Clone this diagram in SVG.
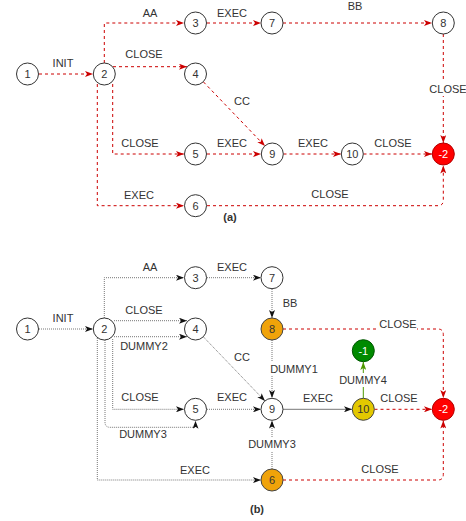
<svg xmlns="http://www.w3.org/2000/svg" width="466" height="521" viewBox="0 0 466 521">
<style>
text{font-family:"Liberation Sans",Arial,sans-serif;font-size:11px;fill:#333;text-anchor:middle;dominant-baseline:central}
.n circle{stroke:#333;stroke-width:1;fill:#fff}
.red{stroke:#cc0000;stroke-width:1;stroke-dasharray:3 3;fill:none;marker-end:url(#ar)}
.dot{stroke:#777;stroke-width:1;stroke-dasharray:1 1;fill:none;marker-end:url(#ab)}
.sol{stroke:#777;stroke-width:1;fill:none;marker-end:url(#ab)}
.grn{stroke:#4d9900;stroke-width:1;fill:none;marker-end:url(#ag)}
.bg{fill:#fff}
.b{font-weight:bold;font-size:11px}
.w{fill:#fff}
</style>
<defs>
<marker id="ar" viewBox="0 0 8 6" refX="8" refY="3" markerWidth="8" markerHeight="6" markerUnits="userSpaceOnUse" orient="auto"><path d="M0,0 L8,3 L0,6 L2,3 z" fill="#cc0000"/></marker>
<marker id="ab" viewBox="0 0 8 6" refX="8" refY="3" markerWidth="8" markerHeight="6" markerUnits="userSpaceOnUse" orient="auto"><path d="M0,0 L8,3 L0,6 L2,3 z" fill="#111"/></marker>
<marker id="ag" viewBox="0 0 8 6" refX="8" refY="3" markerWidth="8" markerHeight="6" markerUnits="userSpaceOnUse" orient="auto"><path d="M0,0 L8,3 L0,6 L2,3 z" fill="#4d9900"/></marker>
</defs>

<g id="connectors">
<!-- (a) -->
<path class="red" d="M39,74 H93"/>
<path class="red" d="M104.3,63 V23 H184"/>
<path class="red" d="M113,66.7 H187"/>
<path class="red" d="M112.7,84 V154 H184"/>
<path class="red" d="M97.3,84 V205.7 H184"/>
<path class="red" d="M207,23 H261"/>
<path class="red" d="M283,23 H432"/>
<path class="red" d="M443.3,34 V143"/>
<path class="red" d="M203.5,82 L265,146"/>
<path class="red" d="M207,154 H261"/>
<path class="red" d="M283.5,154 H341"/>
<path class="red" d="M363.5,154 H432"/>
<path class="red" d="M207,205.7 H438 Q443.3,205.7 443.3,200 V165.5"/>
<!-- (b) -->
<path class="dot" d="M39,329 H93"/>
<path class="dot" d="M104.3,318 V277.7 H184"/>
<path class="dot" d="M114,320.7 H187"/>
<path class="dot" d="M114,336.7 H187"/>
<path class="dot" d="M112.7,339 V409.3 H184"/>
<path class="dot" d="M105,340 V422 Q105,427.3 110,427.3 H195.5 V420.8"/>
<path class="dot" d="M97.3,338 V480 H261"/>
<path class="dot" d="M207,277.7 H261"/>
<path class="dot" d="M272,289 V318"/>
<path class="dot" d="M272,340 V398"/>
<path class="dot" d="M203.5,337 L265,401"/>
<path class="dot" d="M207,409.3 H261"/>
<path class="sol" d="M283,409.3 H352"/>
<path class="grn" d="M363.3,398 V362"/>
<path class="red" d="M374.5,409.3 H432"/>
<path class="red" d="M283,329 H438 Q443.3,329 443.3,334.5 V398"/>
<path class="dot" d="M272,469 V420.5"/>
<path class="red" d="M283,480 H438 Q443.3,480 443.3,474.5 V420.5"/>
</g>

<g id="labels">
<text x="150" y="13">AA</text>
<text x="232" y="13">EXEC</text>
<text x="355" y="6">BB</text>
<text x="63" y="63">INIT</text>
<text x="144" y="54">CLOSE</text>
<text x="242" y="101">CC</text>
<rect class="bg" x="430" y="82" width="36" height="14"/>
<text x="448" y="89">CLOSE</text>
<text x="140" y="143">CLOSE</text>
<text x="232" y="143">EXEC</text>
<text x="313" y="143">EXEC</text>
<text x="393" y="143">CLOSE</text>
<text x="139" y="195">EXEC</text>
<text x="330" y="194">CLOSE</text>
<text class="b" x="230" y="217">(a)</text>

<text x="150" y="266.7">AA</text>
<text x="232" y="267">EXEC</text>
<text x="63" y="318">INIT</text>
<text x="144" y="310">CLOSE</text>
<text x="144" y="346">DUMMY2</text>
<text x="290" y="303">BB</text>
<rect class="bg" x="379" y="317" width="38" height="14"/>
<text x="398" y="324">CLOSE</text>
<rect class="bg" x="270" y="362" width="48" height="14"/>
<text x="294" y="369">DUMMY1</text>
<text x="242" y="357">CC</text>
<rect class="bg" x="339" y="373" width="48" height="14"/>
<text x="363" y="380">DUMMY4</text>
<text x="140" y="397">CLOSE</text>
<text x="232" y="397">EXEC</text>
<text x="318" y="398">EXEC</text>
<text x="399" y="398">CLOSE</text>
<text x="143" y="434">DUMMY3</text>
<rect class="bg" x="248" y="437" width="48" height="14"/>
<text x="272" y="444">DUMMY3</text>
<text x="195" y="470">EXEC</text>
<text x="380" y="469">CLOSE</text>
<text class="b" x="257" y="509">(b)</text>
</g>

<!-- (a) nodes -->
<g id="a1" class="n"><circle cx="27.5" cy="74" r="11"/><text x="27.5" y="74">1</text></g>
<g id="a2" class="n"><circle cx="104.3" cy="74" r="11"/><text x="104.3" y="74">2</text></g>
<g id="a3" class="n"><circle cx="195.5" cy="23" r="11"/><text x="195.5" y="23">3</text></g>
<g id="a4" class="n"><circle cx="195.5" cy="74" r="11"/><text x="195.5" y="74">4</text></g>
<g id="a7" class="n"><circle cx="272" cy="23" r="11"/><text x="272" y="23">7</text></g>
<g id="a8" class="n"><circle cx="443.3" cy="23" r="11"/><text x="443.3" y="23">8</text></g>
<g id="a5" class="n"><circle cx="195.5" cy="154" r="11"/><text x="195.5" y="154">5</text></g>
<g id="a6" class="n"><circle cx="195.5" cy="205.7" r="11"/><text x="195.5" y="205.7">6</text></g>
<g id="a9" class="n"><circle cx="272.3" cy="154" r="11"/><text x="272.3" y="154">9</text></g>
<g id="a10" class="n"><circle cx="352.3" cy="154" r="11"/><text x="352.3" y="154">10</text></g>
<g id="am2" class="n"><circle cx="443.3" cy="154" r="11" style="fill:#ff0000;stroke:#b20000"/><text class="w" x="443.3" y="154">-2</text></g>

<!-- (b) nodes -->
<g id="b1" class="n"><circle cx="27.5" cy="329" r="11"/><text x="27.5" y="329">1</text></g>
<g id="b2" class="n"><circle cx="104.3" cy="329" r="11"/><text x="104.3" y="329">2</text></g>
<g id="b3" class="n"><circle cx="195.5" cy="277.7" r="11"/><text x="195.5" y="277.7">3</text></g>
<g id="b4" class="n"><circle cx="195.5" cy="329" r="11"/><text x="195.5" y="329">4</text></g>
<g id="b7" class="n"><circle cx="272" cy="277.7" r="11"/><text x="272" y="277.7">7</text></g>
<g id="b8" class="n"><circle cx="272" cy="329" r="11" style="fill:#f0a30a;stroke:#444"/><text x="272" y="329">8</text></g>
<g id="bm1" class="n"><circle cx="363.3" cy="350.7" r="11" style="fill:#008a00;stroke:#005700"/><text class="w" x="363.3" y="350.7">-1</text></g>
<g id="b5" class="n"><circle cx="195.5" cy="409.3" r="11"/><text x="195.5" y="409.3">5</text></g>
<g id="b9" class="n"><circle cx="272" cy="409.3" r="11"/><text x="272" y="409.3">9</text></g>
<g id="b10" class="n"><circle cx="363.3" cy="409.3" r="11" style="fill:#e3c800;stroke:#444"/><text x="363.3" y="409.3">10</text></g>
<g id="bm2" class="n"><circle cx="443.3" cy="409.3" r="11" style="fill:#ff0000;stroke:#b20000"/><text class="w" x="443.3" y="409.3">-2</text></g>
<g id="b6" class="n"><circle cx="272" cy="480" r="11" style="fill:#f0a30a;stroke:#444"/><text x="272" y="480">6</text></g>
</svg>
